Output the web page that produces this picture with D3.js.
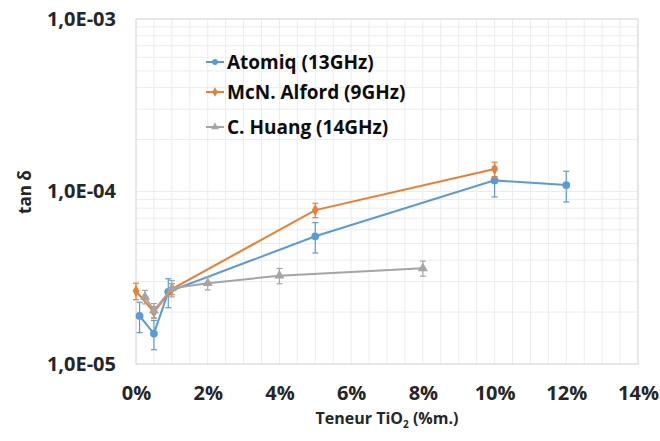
<!DOCTYPE html>
<html>
<head>
<meta charset="utf-8">
<script src="https://cdn.jsdelivr.net/npm/d3@7"></script>
<style>
  body { margin: 0; background: #fff; }
  svg { display: block; font-family: "Open Sans", Lato, sans-serif; }
</style>
</head>
<body>
<div id="chart"></div>
<script>
// Data (tan delta vs TiO2 content, log scale)
const atomiqX = [0.1, 0.5, 0.9, 5, 10, 12];
const atomiqY = [1.9e-5, 1.5e-5, 2.62e-5, 5.5e-5, 1.16e-4, 1.09e-4];
const atomiqErr = [3.8e-6, 2.9e-6, 5e-6, 1.1e-5, 2.3e-5, 2.2e-5];

const alfordX = [0, 0.5, 1, 5, 10];
const alfordY = [2.65e-5, 2.0e-5, 2.72e-5, 7.8e-5, 1.35e-4];
const alfordErr = [2.9e-6, 1.5e-6, 2e-6, 7.5e-6, 1.3e-5];

const huangX = [0.25, 0.5, 1, 2, 4, 8];
const huangY = [2.45e-5, 2.04e-5, 2.75e-5, 2.94e-5, 3.25e-5, 3.59e-5];
const huangErr = [2.2e-6, 2e-6, 3e-6, 2.5e-6, 3.3e-6, 3.6e-6];

const xTicks = [0, 2, 4, 6, 8, 10, 12, 14];
const yTicks = [1e-5, 1e-4, 1e-3];
const yTickLabels = ['1,0E-05', '1,0E-04', '1,0E-03'];

const seriesNames = ['Atomiq (13GHz)', 'McN. Alford (9GHz)', 'C. Huang (14GHz)'];
const seriesColors = ['#5B9BD5', '#ED7D31', '#A5A5A5'];

const W = 660, H = 441;
const margin = { top: 19, right: 22, bottom: 77, left: 136 };
const width = W - margin.left - margin.right;
const height = H - margin.top - margin.bottom;

const svg = d3.select('#chart').append('svg')
    .attr('width', W)
    .attr('height', H);

const g = svg.append('g')
    .attr('transform', `translate(${margin.left},${margin.top})`);

const x = d3.scaleLinear().domain([0, 14]).range([0, width]);
const y = d3.scaleLog().domain([1e-5, 1e-3]).range([height, 0]);

// Grid: vertical every 0.5%, horizontal at log minor steps
const xGrid = d3.range(0, 14.01, 0.5);
const yGrid = [];
[1e-5, 1e-4].forEach(dec => {
    for (let k = 1; k <= 10; k++) yGrid.push(dec * k);
});

g.selectAll('.vgrid')
    .data(xGrid)
    .enter()
    .append('line')
    .attr('x1', d => x(d))
    .attr('x2', d => x(d))
    .attr('y1', 0)
    .attr('y2', height)
    .attr('stroke', '#ececec')
    .attr('stroke-width', 1);

g.selectAll('.hgrid')
    .data(yGrid)
    .enter()
    .append('line')
    .attr('x1', 0)
    .attr('x2', width)
    .attr('y1', d => y(d))
    .attr('y2', d => y(d))
    .attr('stroke', '#ececec')
    .attr('stroke-width', 1);

// Plot frame
g.append('rect')
    .attr('x', 0)
    .attr('y', 0)
    .attr('width', width)
    .attr('height', height)
    .attr('fill', 'none')
    .attr('stroke', '#d9d9d9')
    .attr('stroke-width', 1);

// Axes (labels only)
const xAxis = d3.axisBottom(x)
    .tickValues(xTicks)
    .tickSize(0)
    .tickPadding(22)
    .tickFormat(d => d + '%');

const yAxis = d3.axisLeft(y)
    .tickValues(yTicks)
    .tickSize(0)
    .tickPadding(20)
    .tickFormat((d, i) => yTickLabels[i]);

g.append('g')
    .attr('class', 'x-axis')
    .attr('transform', `translate(0,${height})`)
    .call(xAxis)
    .call(s => s.select('.domain').remove())
    .selectAll('text')
    .style('font-family', '"Open Sans", sans-serif')
    .style('font-size', '20px')
    .style('font-weight', 'bold')
    .style('fill', '#262626');

g.append('g')
    .attr('class', 'y-axis')
    .call(yAxis)
    .call(s => s.select('.domain').remove())
    .selectAll('text')
    .style('font-family', '"Open Sans", sans-serif')
    .style('font-size', '20px')
    .style('font-weight', 'bold')
    .style('fill', '#262626');

// Axis titles
const xTitle = svg.append('text')
    .attr('x', 387)
    .attr('y', 424)
    .attr('text-anchor', 'middle')
    .style('font-size', '16px')
    .style('font-weight', 'bold')
    .style('fill', '#262626');
xTitle.append('tspan').text('Teneur TiO');
xTitle.append('tspan').attr('dy', 4).style('font-size', '10px').text('2');
xTitle.append('tspan').attr('dy', -4).text(' (%m.)');

svg.append('text')
    .attr('transform', 'rotate(-90)')
    .attr('x', -192)
    .attr('y', 31)
    .attr('text-anchor', 'middle')
    .style('font-size', '17px')
    .style('font-weight', 'bold')
    .style('fill', '#262626')
    .text('tan δ');

// Series
const series = [
    { xs: atomiqX, ys: atomiqY, err: atomiqErr, symbol: d3.symbolCircle, size: 48 },
    { xs: alfordX, ys: alfordY, err: alfordErr, symbol: d3.symbolDiamond, size: 40 },
    { xs: huangX, ys: huangY, err: huangErr, symbol: d3.symbolTriangle, size: 44 }
];

const line = d3.line()
    .x(d => x(d.x))
    .y(d => y(d.y));

series.forEach((s, i) => {
    const color = seriesColors[i];
    const pts = s.xs.map((v, j) => ({ x: v, y: s.ys[j], e: s.err[j] }));

    // Error bars
    const eb = g.append('g').attr('class', `err-${i}`);
    pts.forEach(p => {
        const top = y(p.y + p.e), bot = y(p.y - p.e), cx = x(p.x);
        eb.append('line').attr('x1', cx).attr('x2', cx).attr('y1', top).attr('y2', bot)
            .attr('stroke', color).attr('stroke-width', 1.2);
        [top, bot].forEach(v => {
            eb.append('line').attr('x1', cx - 3).attr('x2', cx + 3).attr('y1', v).attr('y2', v)
                .attr('stroke', color).attr('stroke-width', 1.2);
        });
    });

    g.append('path')
        .datum(pts)
        .attr('d', line)
        .attr('fill', 'none')
        .attr('stroke', color)
        .attr('stroke-width', 2);

    g.selectAll(`.pt-${i}`)
        .data(pts)
        .enter()
        .append('path')
        .attr('class', `pt-${i}`)
        .attr('transform', d => `translate(${x(d.x)},${y(d.y)})`)
        .attr('d', d3.symbol().type(s.symbol).size(s.size))
        .attr('fill', color);
});

// Legend
const legend = svg.append('g')
    .attr('class', 'legend')
    .attr('transform', 'translate(206, 62)');

seriesNames.forEach((name, i) => {
    const item = legend.append('g')
        .attr('transform', `translate(0, ${[0, 30, 65][i]})`);

    item.append('line')
        .attr('x1', 0)
        .attr('x2', 18)
        .attr('stroke', seriesColors[i])
        .attr('stroke-width', 2);

    item.append('path')
        .attr('transform', 'translate(9,0)')
        .attr('d', d3.symbol().type(series[i].symbol).size(26))
        .attr('fill', seriesColors[i]);

    item.append('text')
        .attr('x', 21)
        .attr('y', 7)
        .style('font-size', '19px')
        .style('font-weight', 'bold')
        .style('fill', '#0d0d0d')
        .text(name);
});
</script>
</body>
</html>
